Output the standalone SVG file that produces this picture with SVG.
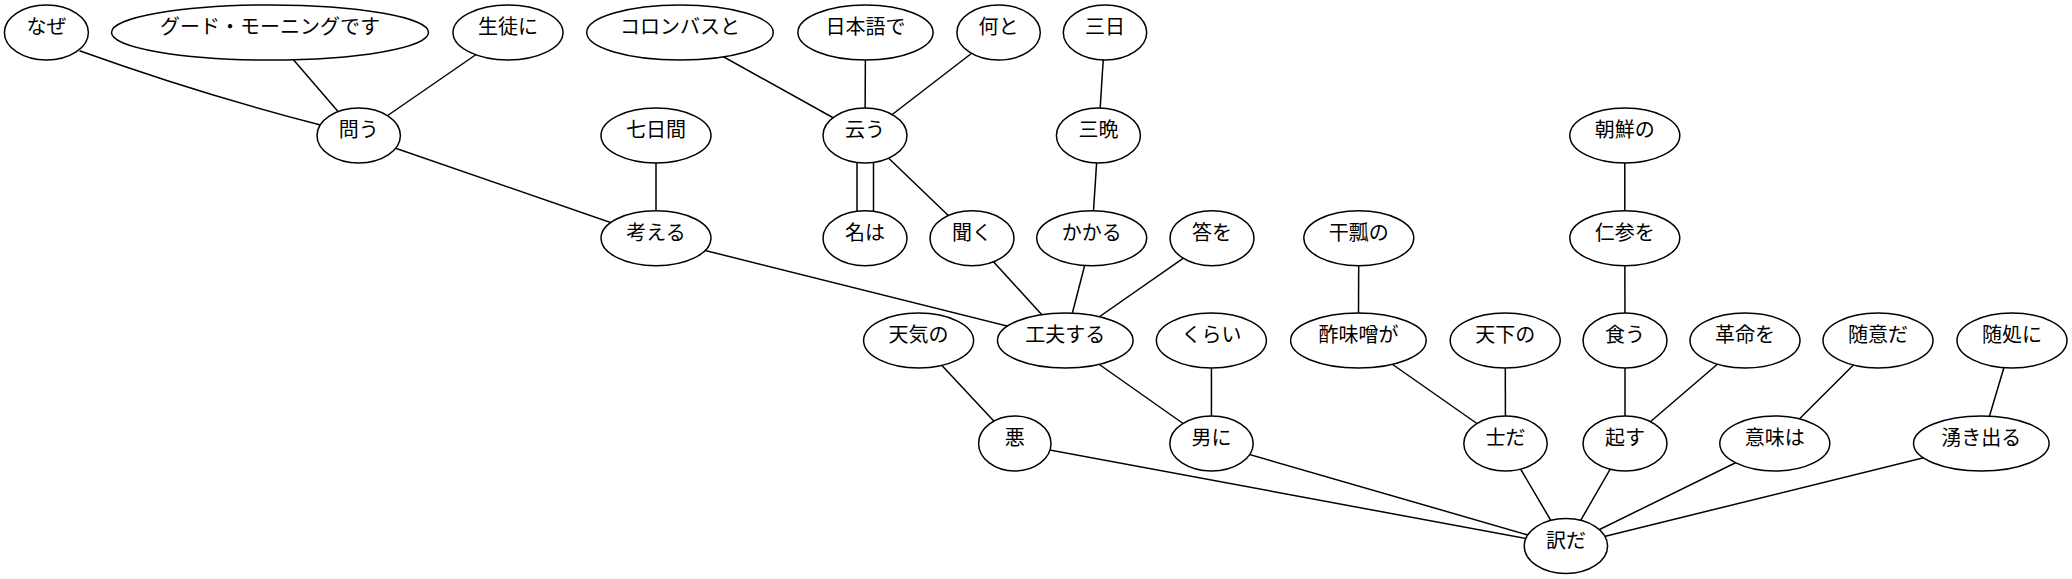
<svg xmlns="http://www.w3.org/2000/svg" width="2072" height="579" viewBox="0 0 2072 579">
<style>
.n ellipse{fill:#fff;stroke:#000;stroke-width:1.5}
.n text{font-family:"Liberation Serif","Noto Sans CJK JP",serif;font-size:20px;text-anchor:middle;fill:#000}
#edges line,#edges path{stroke:#000;stroke-width:1.5;fill:none}
</style>
<rect width="2072" height="579" fill="#fff"/>
<g id="edges">
<path d="M79.5,50.7 Q200,94 320.5,125"/>
<line x1="270" y1="32.5" x2="358.7" y2="135.5"/>
<line x1="508" y1="32.5" x2="358.7" y2="135.5"/>
<line x1="358.7" y1="135.5" x2="656" y2="238.2"/>
<line x1="656" y1="135.5" x2="656" y2="238.2"/>
<line x1="680" y1="32.5" x2="865" y2="135.5"/>
<line x1="865.5" y1="32.5" x2="865" y2="135.5"/>
<line x1="998.6" y1="32.5" x2="865" y2="135.5"/>
<line x1="857" y1="135.5" x2="857" y2="238.2"/>
<line x1="873.5" y1="135.5" x2="873.5" y2="238.2"/>
<line x1="865" y1="135.5" x2="972" y2="238.2"/>
<line x1="1105" y1="32.5" x2="1098.4" y2="135.5"/>
<line x1="1098.4" y1="135.5" x2="1091.7" y2="238.2"/>
<line x1="656" y1="238.2" x2="1065.3" y2="340.5"/>
<line x1="972" y1="238.2" x2="1065.3" y2="340.5"/>
<line x1="1091.7" y1="238.2" x2="1065.3" y2="340.5"/>
<line x1="1212" y1="238.2" x2="1065.3" y2="340.5"/>
<line x1="1358.8" y1="238.2" x2="1358.4" y2="340.5"/>
<line x1="1624.8" y1="135.5" x2="1624.8" y2="238.2"/>
<line x1="1624.8" y1="238.2" x2="1625" y2="340.5"/>
<line x1="918.6" y1="340.5" x2="1014.8" y2="443.5"/>
<line x1="1065.3" y1="340.5" x2="1211.5" y2="443.5"/>
<line x1="1211.4" y1="340.5" x2="1211.5" y2="443.5"/>
<line x1="1358.4" y1="340.5" x2="1505.5" y2="443.5"/>
<line x1="1505.2" y1="340.5" x2="1505.5" y2="443.5"/>
<line x1="1625" y1="340.5" x2="1625" y2="443.5"/>
<line x1="1745" y1="340.5" x2="1625" y2="443.5"/>
<line x1="1878" y1="340.5" x2="1774.8" y2="443.5"/>
<line x1="2012" y1="340.5" x2="1981.3" y2="443.5"/>
<line x1="1014.8" y1="443.5" x2="1565.9" y2="546"/>
<line x1="1211.5" y1="443.5" x2="1565.9" y2="546"/>
<line x1="1505.5" y1="443.5" x2="1565.9" y2="546"/>
<line x1="1625" y1="443.5" x2="1565.9" y2="546"/>
<line x1="1774.8" y1="443.5" x2="1565.9" y2="546"/>
<line x1="1981.3" y1="443.5" x2="1565.9" y2="546"/>
</g>
<g id="n_naze" class="n"><ellipse cx="46.4" cy="32.5" rx="42" ry="27.5"/><text x="46.4" y="34">なぜ</text></g>
<g id="n_goodmorning" class="n"><ellipse cx="270" cy="32.5" rx="158.5" ry="27.5"/><text x="270" y="34">グード・モーニングです</text></g>
<g id="n_seito" class="n"><ellipse cx="508" cy="32.5" rx="55" ry="27.5"/><text x="508" y="34">生徒に</text></g>
<g id="n_columbus" class="n"><ellipse cx="680" cy="32.5" rx="93.3" ry="27.5"/><text x="680" y="34">コロンバスと</text></g>
<g id="n_nihongo" class="n"><ellipse cx="865.5" cy="32.5" rx="67.6" ry="27.5"/><text x="865.5" y="34">日本語で</text></g>
<g id="n_nanto" class="n"><ellipse cx="998.6" cy="32.5" rx="41.7" ry="27.5"/><text x="998.6" y="34">何と</text></g>
<g id="n_mikka" class="n"><ellipse cx="1105" cy="32.5" rx="41.7" ry="27.5"/><text x="1105" y="34">三日</text></g>
<g id="n_tou" class="n"><ellipse cx="358.7" cy="135.5" rx="41.7" ry="27.5"/><text x="358.7" y="137">問う</text></g>
<g id="n_nanokakan" class="n"><ellipse cx="656" cy="135.5" rx="55" ry="27.5"/><text x="656" y="137">七日間</text></g>
<g id="n_iu" class="n"><ellipse cx="865" cy="135.5" rx="42" ry="27.5"/><text x="865" y="137">云う</text></g>
<g id="n_miban" class="n"><ellipse cx="1098.4" cy="135.5" rx="42" ry="27.5"/><text x="1098.4" y="137">三晩</text></g>
<g id="n_chousen" class="n"><ellipse cx="1624.8" cy="135.5" rx="55" ry="27.5"/><text x="1624.8" y="137">朝鮮の</text></g>
<g id="n_kangaeru" class="n"><ellipse cx="656" cy="238.2" rx="55" ry="27.5"/><text x="656" y="239.7">考える</text></g>
<g id="n_nawa" class="n"><ellipse cx="865" cy="238.2" rx="42" ry="27.5"/><text x="865" y="239.7">名は</text></g>
<g id="n_kiku" class="n"><ellipse cx="972" cy="238.2" rx="42" ry="27.5"/><text x="972" y="239.7">聞く</text></g>
<g id="n_kakaru" class="n"><ellipse cx="1091.7" cy="238.2" rx="55" ry="27.5"/><text x="1091.7" y="239.7">かかる</text></g>
<g id="n_kotae" class="n"><ellipse cx="1212" cy="238.2" rx="42" ry="27.5"/><text x="1212" y="239.7">答を</text></g>
<g id="n_kanpyou" class="n"><ellipse cx="1358.8" cy="238.2" rx="55" ry="27.5"/><text x="1358.8" y="239.7">干瓢の</text></g>
<g id="n_ninjin" class="n"><ellipse cx="1624.8" cy="238.2" rx="55" ry="27.5"/><text x="1624.8" y="239.7">仁参を</text></g>
<g id="n_tenki" class="n"><ellipse cx="918.6" cy="340.5" rx="55" ry="27.5"/><text x="918.6" y="342">天気の</text></g>
<g id="n_kufuu" class="n"><ellipse cx="1065.3" cy="340.5" rx="67.8" ry="27.5"/><text x="1065.3" y="342">工夫する</text></g>
<g id="n_kurai" class="n"><ellipse cx="1211.4" cy="340.5" rx="55" ry="27.5"/><text x="1211.4" y="342">くらい</text></g>
<g id="n_sumiso" class="n"><ellipse cx="1358.4" cy="340.5" rx="67.8" ry="27.5"/><text x="1358.4" y="342">酢味噌が</text></g>
<g id="n_tenka" class="n"><ellipse cx="1505.2" cy="340.5" rx="55" ry="27.5"/><text x="1505.2" y="342">天下の</text></g>
<g id="n_kuu" class="n"><ellipse cx="1625" cy="340.5" rx="42" ry="27.5"/><text x="1625" y="342">食う</text></g>
<g id="n_kakumei" class="n"><ellipse cx="1745" cy="340.5" rx="55" ry="27.5"/><text x="1745" y="342">革命を</text></g>
<g id="n_zuii" class="n"><ellipse cx="1878" cy="340.5" rx="55" ry="27.5"/><text x="1878" y="342">随意だ</text></g>
<g id="n_zuisho" class="n"><ellipse cx="2012" cy="340.5" rx="55" ry="27.5"/><text x="2012" y="342">随処に</text></g>
<g id="n_aku" class="n"><ellipse cx="1014.8" cy="443.5" rx="36.2" ry="27.5"/><text x="1014.8" y="445">悪</text></g>
<g id="n_otoko" class="n"><ellipse cx="1211.5" cy="443.5" rx="41.7" ry="27.5"/><text x="1211.5" y="445">男に</text></g>
<g id="n_shida" class="n"><ellipse cx="1505.5" cy="443.5" rx="41.7" ry="27.5"/><text x="1505.5" y="445">士だ</text></g>
<g id="n_okosu" class="n"><ellipse cx="1625" cy="443.5" rx="42" ry="27.5"/><text x="1625" y="445">起す</text></g>
<g id="n_imiwa" class="n"><ellipse cx="1774.8" cy="443.5" rx="55" ry="27.5"/><text x="1774.8" y="445">意味は</text></g>
<g id="n_wakideru" class="n"><ellipse cx="1981.3" cy="443.5" rx="67.8" ry="27.5"/><text x="1981.3" y="445">湧き出る</text></g>
<g id="n_wakeda" class="n"><ellipse cx="1565.9" cy="546" rx="41.7" ry="27.5"/><text x="1565.9" y="547.5">訳だ</text></g>
</svg>
